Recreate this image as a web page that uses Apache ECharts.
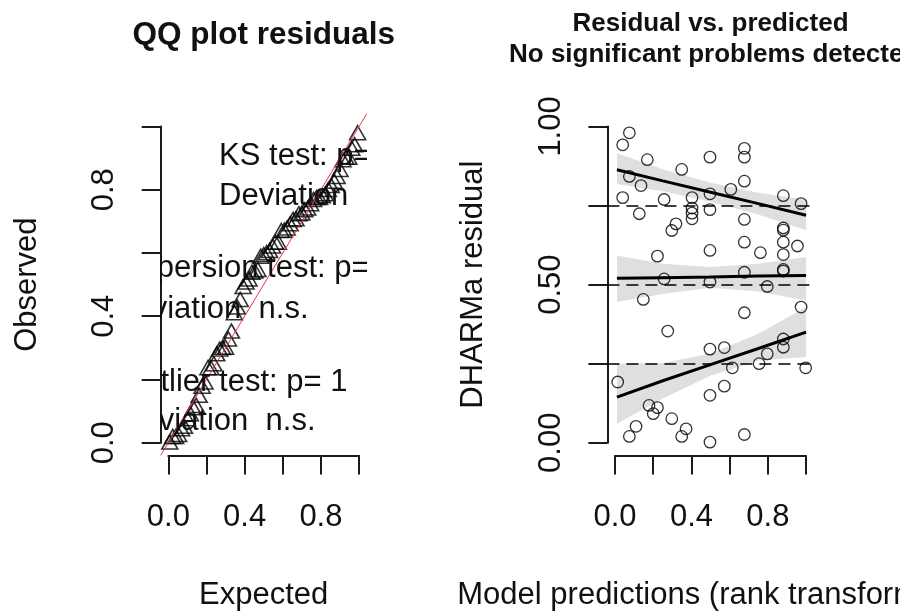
<!DOCTYPE html>
<html>
<head>
<meta charset="utf-8">
<script src="https://cdn.jsdelivr.net/npm/echarts@6/dist/echarts.min.js"></script>
<style>
  html, body { margin: 0; padding: 0; background: #ffffff; }
  #chart { width: 900px; height: 611px; }
</style>
</head>
<body>
<div id="chart"></div>
<script>
// Rank-transformed model predictions and the matching scaled residuals
const predictions = [0.075, 0.040, 0.169, 0.497, 0.677, 0.677, 0.349, 0.075, 0.136, 0.677,
  0.606, 0.497, 0.403, 0.040, 0.257, 0.881, 0.974, 0.127, 0.403, 0.403,
  0.403, 0.497, 0.319, 0.297, 0.677, 0.881, 0.881, 0.881, 0.955, 0.677,
  0.497, 0.761, 0.881, 0.222, 0.881, 0.881, 0.677, 0.257, 0.497, 0.797,
  0.148, 0.974, 0.677, 0.276, 0.497, 0.572, 0.881, 0.881, 0.797, 0.754,
  0.614, 0.998, 0.014, 0.572, 0.497, 0.178, 0.222, 0.200, 0.297, 0.110,
  0.075, 0.372, 0.349, 0.497, 0.677];
const residuals = [0.980, 0.942, 0.895, 0.903, 0.931, 0.903, 0.864, 0.842, 0.813, 0.827,
  0.801, 0.787, 0.775, 0.775, 0.769, 0.781, 0.756, 0.724, 0.742, 0.726,
  0.708, 0.737, 0.692, 0.671, 0.706, 0.679, 0.672, 0.634, 0.622, 0.634,
  0.608, 0.601, 0.595, 0.590, 0.543, 0.548, 0.539, 0.518, 0.508, 0.494,
  0.453, 0.429, 0.411, 0.353, 0.296, 0.301, 0.328, 0.302, 0.281, 0.250,
  0.237, 0.237, 0.192, 0.179, 0.150, 0.118, 0.111, 0.092, 0.076, 0.052,
  0.020, 0.044, 0.020, 0.002, 0.026];

// Quantile regression fits (0.25 / 0.5 / 0.75) with their confidence bands
const bandX    = [0.01, 0.25, 0.50, 0.75, 1.00];
const q75Fit   = [0.863, 0.828, 0.792, 0.756, 0.719];
const q75Upper = [0.915, 0.865, 0.822, 0.790, 0.768];
const q75Lower = [0.818, 0.795, 0.762, 0.722, 0.672];
const q50Fit   = [0.520, 0.522, 0.524, 0.527, 0.529];
const q50Upper = [0.592, 0.566, 0.556, 0.566, 0.587];
const q50Lower = [0.445, 0.470, 0.490, 0.478, 0.450];
const q25Fit   = [0.144, 0.196, 0.247, 0.298, 0.350];
const q25Upper = [0.250, 0.252, 0.282, 0.345, 0.429];
const q25Lower = [0.060, 0.140, 0.212, 0.260, 0.271];
const quantileLevels = [0.25, 0.5, 0.75];

// Tick labels (R drops every other label where they would crowd)
const unitTickLabels = ['0.0', '', '0.4', '', '0.8', ''];
const residTickLabels = ['0.00', '', '0.50', '', '1.00'];

// Test summaries written inside the QQ panel
const qqLegendText = ['KS test: p=', 'Deviation  n.s.',
  'Dispersion test: p=', 'Deviation  n.s.',
  'Outlier test: p= 1', 'Deviation  n.s.'];
const qqLegendX = [0.266, 0.266, -0.295, -0.295, -0.258, -0.258];
const qqLegendY = [0.905, 0.778, 0.550, 0.423, 0.190, 0.067];

// ---- layout ------------------------------------------------------------
const FONT = '"Liberation Sans", Arial, Helvetica, sans-serif';
const INK = '#111111';
const AX_MIN = -0.04, AX_MAX = 1.04;            // R's 4% range expansion
const SPAN = AX_MAX - AX_MIN;
const plotTop = 113.8, plotHeight = 341.6;
const panels = [{ left: 160.7, width: 206.0 }, { left: 607.4, width: 206.3 }];

function dataGrid(p) {
  return { left: p.left, top: plotTop, width: p.width, height: plotHeight,
           containLabel: false, outerBoundsMode: 'none' };
}
function axisGrid(p) {
  const dx = p.width * (0 - AX_MIN) / SPAN, dy = plotHeight * (AX_MAX - 1) / SPAN;
  return { left: p.left + dx, top: plotTop + dy, width: p.width / SPAN, height: plotHeight / SPAN,
           containLabel: false, outerBoundsMode: 'none' };
}
const offX = plotHeight * (0 - AX_MIN) / SPAN;
const offY0 = panels[0].width * (0 - AX_MIN) / SPAN;
const offY1 = panels[1].width * (0 - AX_MIN) / SPAN;

const grids = [dataGrid(panels[0]), axisGrid(panels[0]), dataGrid(panels[1]), axisGrid(panels[1])];

const lineStyleAxis = { color: '#1a1a1a', width: 2 };
const textBase = { fontFamily: FONT, fontSize: 31, color: INK };

function hiddenAxis(gridIndex) {
  return { type: 'value', gridIndex, min: AX_MIN, max: AX_MAX, show: false, splitLine: { show: false } };
}
function shownX(gridIndex, labels, name) {
  return {
    type: 'value', gridIndex, min: 0, max: 1, interval: 0.2, position: 'bottom', offset: offX,
    axisLine: { show: true, onZero: false, lineStyle: lineStyleAxis },
    axisTick: { show: true, length: 19, lineStyle: lineStyleAxis },
    axisLabel: Object.assign({ margin: 46.5, hideOverlap: false, formatter: (v, i) => labels[i] }, textBase),
    splitLine: { show: false },
    name, nameLocation: 'middle', nameGap: 124.5, nameTextStyle: textBase
  };
}
function shownY(gridIndex, interval, labels, name, off) {
  return {
    type: 'value', gridIndex, min: 0, max: 1, interval, position: 'left', offset: off,
    axisLine: { show: true, onZero: false, lineStyle: lineStyleAxis },
    axisTick: { show: true, length: 19, lineStyle: lineStyleAxis },
    axisLabel: Object.assign({ margin: 40.5, rotate: 90, hideOverlap: false, formatter: (v, i) => labels[i] }, textBase),
    splitLine: { show: false },
    name, nameLocation: 'middle', nameGap: 118, nameTextStyle: textBase
  };
}

// ---- QQ data: sorted residuals against uniform plotting positions ------
const sortedResid = residuals.slice().sort((a, b) => a - b);
const nRes = sortedResid.length;
const qqPoints = sortedResid.map((v, i) => [(i + 0.5) / nRes, v]);
const scatterPoints = predictions.map((p, i) => [p, residuals[i]]);

function bandRenderer(upper, lower) {
  return function (params, api) {
    const pts = [];
    for (let i = 0; i < bandX.length; i++) pts.push(api.coord([bandX[i], upper[i]]));
    for (let i = bandX.length - 1; i >= 0; i--) pts.push(api.coord([bandX[i], lower[i]]));
    return { type: 'polygon', shape: { points: pts }, style: { fill: 'rgba(0,0,0,0.125)' } };
  };
}
function fitSeries(fit) {
  return {
    type: 'line', xAxisIndex: 2, yAxisIndex: 2, z: 5, silent: true,
    data: bandX.map((x, i) => [x, fit[i]]), showSymbol: false, symbol: 'none',
    lineStyle: { color: '#000', width: 3 }
  };
}

const chart = echarts.init(document.getElementById('chart'), null, { renderer: 'canvas' });
chart.setOption({
  animation: false,
  backgroundColor: '#ffffff',
  title: [
    { text: 'QQ plot residuals', left: panels[0].left + panels[0].width / 2, top: 19, textAlign: 'center', padding: 0,
      textStyle: { fontFamily: FONT, fontSize: 31.5, fontWeight: 'bold', color: INK } },
    { text: 'Residual vs. predicted\n No significant problems detected', left: panels[1].left + panels[1].width / 2, top: 8,
      textAlign: 'center', padding: 0,
      textStyle: { fontFamily: FONT, fontSize: 26, fontWeight: 'bold', color: INK, lineHeight: 31 } }
  ],
  grid: grids,
  xAxis: [hiddenAxis(0), shownX(1, unitTickLabels, 'Expected'), hiddenAxis(2),
          shownX(3, unitTickLabels, 'Model predictions (rank transformed)')],
  yAxis: [hiddenAxis(0), shownY(1, 0.2, unitTickLabels, 'Observed', offY0), hiddenAxis(2),
          shownY(3, 0.25, residTickLabels, 'DHARMa residual', offY1)],
  series: [
    // QQ panel
    { type: 'scatter', xAxisIndex: 0, yAxisIndex: 0, z: 2, silent: true, data: qqPoints,
      symbol: 'triangle', symbolSize: [16, 14],
      itemStyle: { color: 'rgba(0,0,0,0)', borderColor: '#000', borderWidth: 1.6 } },
    { type: 'line', xAxisIndex: 0, yAxisIndex: 0, z: 4, silent: true, symbol: 'none',
      data: [[AX_MIN, AX_MIN], [AX_MAX, AX_MAX]], lineStyle: { color: '#e8364a', width: 1 } },
    { type: 'custom', xAxisIndex: 0, yAxisIndex: 0, z: 6, silent: true, clip: true,
      data: qqLegendText.map((t, i) => [qqLegendX[i], qqLegendY[i], i]),
      renderItem: function (params, api) {
        const pt = api.coord([api.value(0), api.value(1)]);
        return { type: 'text', x: pt[0], y: pt[1],
          style: { text: qqLegendText[api.value(2)], fill: INK, font: '31px ' + FONT,
                   align: 'left', verticalAlign: 'middle' } };
      } },
    // Residual vs. predicted panel
    { type: 'scatter', xAxisIndex: 2, yAxisIndex: 2, z: 2, silent: true, data: scatterPoints,
      symbol: 'circle', symbolSize: 11.5,
      itemStyle: { color: 'rgba(0,0,0,0)', borderColor: '#000', borderWidth: 1.3 },
      markLine: { silent: true, symbol: 'none', label: { show: false },
        lineStyle: { color: '#000', width: 1.5, type: [12, 7] },
        data: quantileLevels.map(q => ({ yAxis: q })) } },
    { type: 'custom', xAxisIndex: 2, yAxisIndex: 2, z: 3, silent: true, data: [[0]], renderItem: bandRenderer(q25Upper, q25Lower) },
    { type: 'custom', xAxisIndex: 2, yAxisIndex: 2, z: 3, silent: true, data: [[0]], renderItem: bandRenderer(q50Upper, q50Lower) },
    { type: 'custom', xAxisIndex: 2, yAxisIndex: 2, z: 3, silent: true, data: [[0]], renderItem: bandRenderer(q75Upper, q75Lower) },
    fitSeries(q25Fit), fitSeries(q50Fit), fitSeries(q75Fit)
  ]
});
</script>
</body>
</html>
